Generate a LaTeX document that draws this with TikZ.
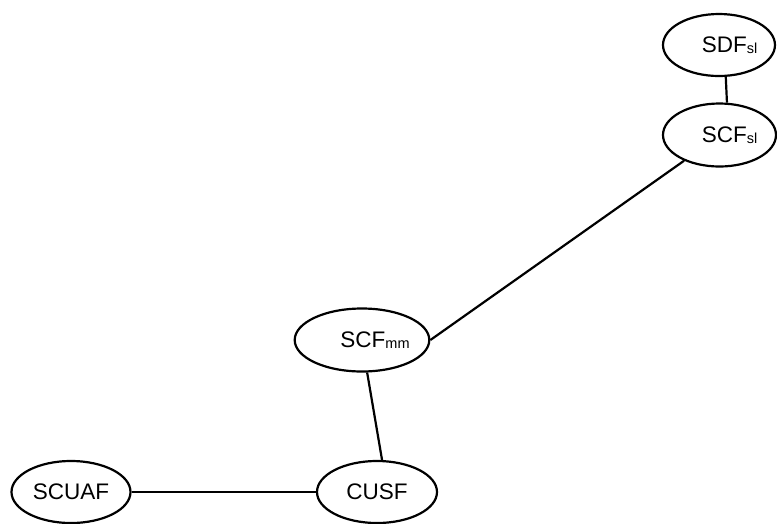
\documentclass[tikz,border=0pt]{standalone}
\usepackage{fontspec}
\setmainfont{Liberation Sans}
\usetikzlibrary{shapes.geometric}
\newcommand\lowsub[1]{{\fontsize{14.5}{15}\selectfont\raisebox{-1pt}{#1}}}
\begin{document}
\begin{tikzpicture}[x=1pt,y=-1pt,
  state/.style={ellipse, draw, line width=2.2pt, inner sep=0pt,
    font=\fontsize{22.5}{24}\selectfont},
  link/.style={line width=2.2pt}]
\useasboundingbox (0,0) rectangle (777,523);

% states
\node[state, minimum width=112, minimum height=62] (sdfsl) at (719,45)
  {\hspace*{21pt}SDF\lowsub{sl}};
\node[state, minimum width=113, minimum height=63] (scfsl) at (719.5,135)
  {\hspace*{20pt}SCF\lowsub{sl}};
\node[state, minimum width=120, minimum height=63] (scfmm) at (362,340)
  {\hspace*{26pt}SCF\lowsub{mm}};
\node[state, minimum width=120, minimum height=62] (cusf) at (377,492) {CUSF};
\node[state, minimum width=119, minimum height=62] (scuaf) at (71,492) {SCUAF};

% links
\draw[link] (sdfsl.282) -- (scfsl.77);
\draw[link] (scfmm.east) -- (scfsl.216);
\draw[link] (scfmm.279) -- (cusf.81);
\draw[link] (scuaf.east) -- (cusf.west);
\end{tikzpicture}
\end{document}
